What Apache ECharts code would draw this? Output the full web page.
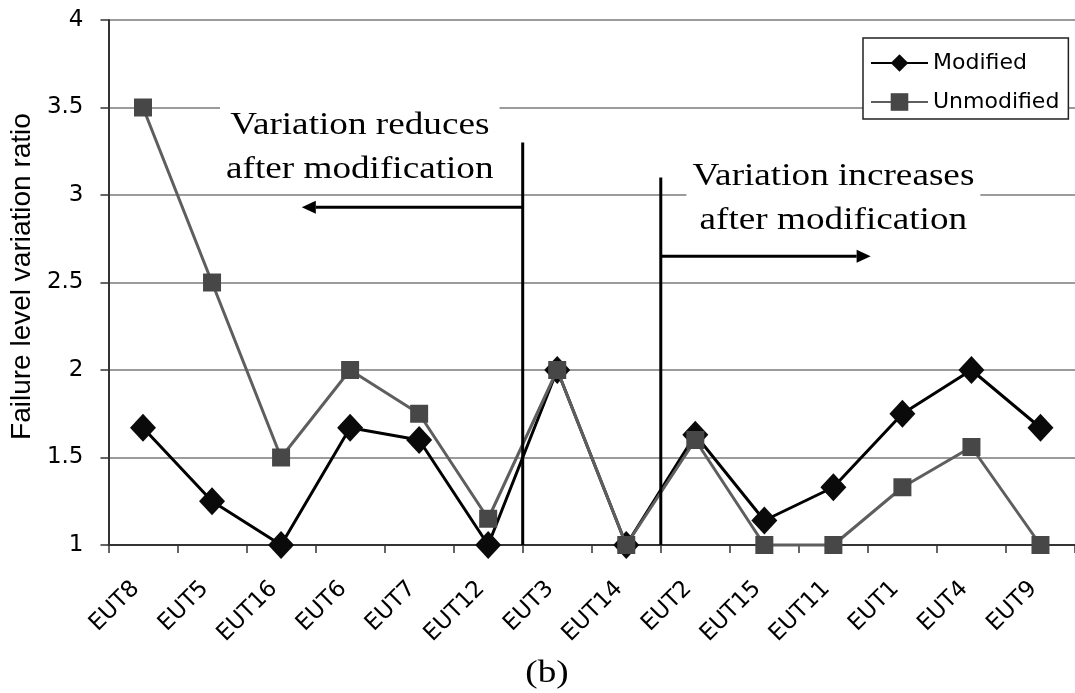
<!DOCTYPE html>
<html>
<head>
<meta charset="utf-8">
<script src="https://cdn.jsdelivr.net/npm/echarts@6/dist/echarts.min.js"></script>
<style>
  html, body { margin: 0; padding: 0; background: #fff; }
  #chart { width: 1075px; height: 693px; }
</style>
</head>
<body>
<div id="chart"></div>
<script>
// Failure level variation ratio per EUT, before and after modification
const categories = ['EUT8', 'EUT5', 'EUT16', 'EUT6', 'EUT7', 'EUT12', 'EUT3',
                    'EUT14', 'EUT2', 'EUT15', 'EUT11', 'EUT1', 'EUT4', 'EUT9'];
const modified   = [1.67, 1.25, 1.00, 1.67, 1.60, 1.00, 2.00, 1.00, 1.63, 1.14, 1.33, 1.75, 2.00, 1.67];
const unmodified = [3.50, 2.50, 1.50, 2.00, 1.75, 1.15, 2.00, 1.00, 1.60, 1.00, 1.00, 1.33, 1.56, 1.00];
const yMin = 1, yMax = 4, yStep = 0.5;

// Annotation anchors in axis units (category index, value)
const dividers = [
  { at: 5.5, top: 3.30 },   // between EUT12 and EUT3
  { at: 7.5, top: 3.10 }    // between EUT14 and EUT2
];
const arrows = [
  { from: 5.5, to: 2.30, value: 2.93 },
  { from: 7.5, to: 10.54, value: 2.65 }
];
const notes = [
  { text: 'Variation reduces\nafter modification', at: 3.14, value: 3.27 },
  { text: 'Variation increases\nafter modification', at: 10.0, value: 2.98 }
];

const SANS = '"DejaVu Sans", sans-serif';
const TITLE_SANS = '"Liberation Sans", Arial, sans-serif';
const SERIF = '"Liberation Serif", "Times New Roman", serif';

const chart = echarts.init(document.getElementById('chart'));

chart.setOption({
  animation: false,
  backgroundColor: '#fff',
  grid: { left: 108, top: 20, width: 970, height: 525 },
  legend: {
    orient: 'vertical',
    left: 863,
    top: 38,
    padding: [14, 9, 6, 7],
    itemGap: 17,
    itemWidth: 57,
    itemHeight: 22,
    backgroundColor: '#fff',
    borderColor: '#222',
    borderWidth: 1.5,
    borderRadius: 0,
    textStyle: { fontFamily: SANS, fontSize: 22, color: '#000' },
    data: ['Modified', 'Unmodified']
  },
  xAxis: {
    type: 'category',
    data: categories,
    boundaryGap: true,
    axisLine: { show: true, lineStyle: { color: '#333', width: 2 } },
    axisTick: { show: true, length: 8, alignWithLabel: false, interval: 0,
                lineStyle: { color: '#333', width: 1.5 } },
    axisLabel: {
      interval: 0, rotate: 45, margin: 33, padding: [0, 10, 0, 0],
      fontFamily: SANS, fontSize: 23, color: '#000'
    },
    splitLine: { show: false }
  },
  yAxis: {
    type: 'value',
    min: yMin, max: yMax, interval: yStep,
    name: 'Failure level variation ratio',
    nameLocation: 'middle',
    nameGap: 68,
    nameTextStyle: { fontFamily: TITLE_SANS, fontSize: 28, color: '#000', padding: [0, 0, 0, 12] },
    axisLine: { show: true, lineStyle: { color: '#333', width: 2 } },
    axisTick: { show: true, length: 8, lineStyle: { color: '#333', width: 1.5 } },
    axisLabel: { margin: 25, fontFamily: SANS, fontSize: 23, color: '#000' },
    splitLine: { show: true, lineStyle: { color: '#7a7a7a', width: 1.5 } }
  },
  series: [
    {
      name: 'Modified',
      type: 'line',
      data: modified,
      symbol: 'diamond',
      symbolSize: [26, 28],
      clip: false,
      z: 3,
      itemStyle: { color: '#0a0a0a' },
      lineStyle: { color: '#000', width: 3 }
    },
    {
      name: 'Unmodified',
      type: 'line',
      data: unmodified,
      symbol: 'rect',
      symbolSize: 18,
      clip: false,
      z: 4,
      itemStyle: { color: '#474747' },
      lineStyle: { color: '#5e5e5e', width: 3 }
    }
  ]
});

// Map a (fractional) category index and a value to pixels through the axes
function toPx(idx, value) {
  const c0 = chart.convertToPixel({ xAxisIndex: 0 }, 0);
  const c1 = chart.convertToPixel({ xAxisIndex: 0 }, 1);
  const x = c0 + idx * (c1 - c0);
  const y = chart.convertToPixel({ yAxisIndex: 0 }, value);
  return [x, y];
}

const graphics = [];

notes.forEach(function (n) {
  const p = toPx(n.at, n.value);
  graphics.push({
    type: 'text',
    x: p[0], y: p[1],
    scaleX: 1.2,
    z: 100,
    style: {
      text: n.text,
      font: '31px ' + SERIF,
      fill: '#000',
      align: 'center',
      verticalAlign: 'middle',
      lineHeight: 44,
      backgroundColor: '#fff',
      padding: [0, 5]
    }
  });
});

dividers.forEach(function (d) {
  const a = toPx(d.at, d.top);
  const b = toPx(d.at, yMin);
  graphics.push({
    type: 'line', z: 101,
    shape: { x1: a[0], y1: a[1], x2: b[0], y2: b[1] },
    style: { stroke: '#000', lineWidth: 3 }
  });
});

arrows.forEach(function (ar) {
  const a = toPx(ar.from, ar.value);
  const b = toPx(ar.to, ar.value);
  const dir = b[0] > a[0] ? 1 : -1;
  const headLen = 14, headHalf = 6.5;
  graphics.push({
    type: 'line', z: 101,
    shape: { x1: a[0], y1: a[1], x2: b[0] - dir * headLen, y2: b[1] },
    style: { stroke: '#000', lineWidth: 3 }
  });
  graphics.push({
    type: 'polygon', z: 101,
    shape: { points: [[b[0], b[1]], [b[0] - dir * headLen, b[1] - headHalf], [b[0] - dir * headLen, b[1] + headHalf]] },
    style: { fill: '#000' }
  });
});

// Panel caption
graphics.push({
  type: 'text',
  x: 547, y: 674,
  scaleX: 1.2,
  z: 100,
  style: { text: '(b)', font: '31px ' + SERIF, fill: '#000', align: 'center', verticalAlign: 'middle' }
});

chart.setOption({ graphic: graphics });
</script>
</body>
</html>
